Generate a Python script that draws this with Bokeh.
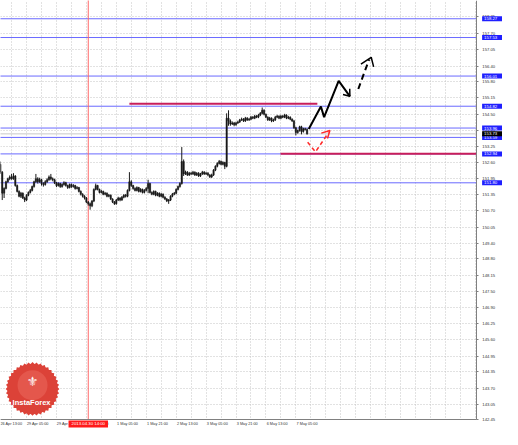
from bokeh.plotting import figure
from bokeh.models import Range1d, FixedTicker, Label
from bokeh.core.properties import value
from bokeh.embed import file_html
from bokeh.resources import INLINE

# hourly bars, index = hours of trading time from 26 Apr 13:00
bar_index = list(range(2, 167))
opens = [152.53, 152.22, 151.39, 151.58, 151.84, 151.96, 152.03, 151.96, 152.07, 151.69,
         151.46, 151.27, 151.39, 151.20, 151.12, 151.31, 151.42, 151.50, 151.65, 151.84,
         151.96, 151.84, 151.92, 151.77, 151.73, 151.84, 151.92, 152.03, 151.96, 151.92,
         151.80, 151.69, 151.77, 151.65, 151.73, 151.80, 151.69, 151.61, 151.73, 151.65,
         151.69, 151.58, 151.61, 151.46, 151.35, 151.27, 151.20, 151.04, 150.97, 150.89,
         151.08, 151.54, 151.69, 151.54, 151.42, 151.46, 151.35, 151.39, 151.27, 151.31,
         151.16, 151.04, 150.97, 151.12, 151.20, 151.12, 151.23, 151.31, 151.27, 151.50,
         151.84, 151.69, 151.58, 151.50, 151.61, 151.46, 151.54, 151.42, 151.50, 151.58,
         151.77, 151.42, 151.35, 151.46, 151.31, 151.39, 151.27, 151.35, 151.23, 151.16,
         151.08, 151.12, 151.27, 151.35, 151.39, 151.54, 151.65, 151.77, 152.64, 152.15,
         152.22, 152.11, 152.18, 152.15, 152.22, 152.11, 152.18, 152.07, 152.15, 152.22,
         152.15, 152.18, 152.11, 152.03, 152.11, 152.30, 152.45, 152.56, 152.64, 152.53,
         152.60, 152.45, 154.35, 154.24, 154.12, 154.16, 154.09, 154.16, 154.20, 154.28,
         154.31, 154.24, 154.35, 154.28, 154.31, 154.39, 154.35, 154.43, 154.39, 154.47,
         154.54, 154.66, 154.50, 154.39, 154.28, 154.35, 154.24, 154.28, 154.39, 154.43,
         154.35, 154.43, 154.39, 154.47, 154.35, 154.39, 154.31, 154.24, 153.97, 153.78,
         153.86, 154.01, 153.82, 153.93, 153.90]
closes = [152.22, 151.39, 151.58, 151.84, 151.96, 152.03, 151.96, 152.07, 151.69, 151.46,
          151.27, 151.39, 151.20, 151.12, 151.31, 151.42, 151.50, 151.65, 151.84, 151.96,
          151.84, 151.92, 151.77, 151.73, 151.84, 151.92, 152.03, 151.96, 151.92, 151.80,
          151.69, 151.77, 151.65, 151.73, 151.80, 151.69, 151.61, 151.73, 151.65, 151.69,
          151.58, 151.61, 151.46, 151.35, 151.27, 151.20, 151.04, 150.97, 150.89, 151.08,
          151.54, 151.69, 151.54, 151.42, 151.46, 151.35, 151.39, 151.27, 151.31, 151.16,
          151.04, 150.97, 151.12, 151.20, 151.12, 151.23, 151.31, 151.27, 151.50, 151.84,
          151.69, 151.58, 151.50, 151.61, 151.46, 151.54, 151.42, 151.50, 151.58, 151.77,
          151.42, 151.35, 151.46, 151.31, 151.39, 151.27, 151.35, 151.23, 151.16, 151.08,
          151.12, 151.27, 151.35, 151.39, 151.54, 151.65, 151.77, 152.64, 152.15, 152.22,
          152.11, 152.18, 152.15, 152.22, 152.11, 152.18, 152.07, 152.15, 152.22, 152.15,
          152.18, 152.11, 152.03, 152.11, 152.30, 152.45, 152.56, 152.64, 152.53, 152.60,
          152.45, 154.35, 154.24, 154.12, 154.16, 154.09, 154.16, 154.20, 154.28, 154.31,
          154.24, 154.35, 154.28, 154.31, 154.39, 154.35, 154.43, 154.39, 154.47, 154.54,
          154.66, 154.50, 154.39, 154.28, 154.35, 154.24, 154.28, 154.39, 154.43, 154.35,
          154.43, 154.39, 154.47, 154.35, 154.39, 154.31, 154.24, 153.97, 153.78, 153.86,
          154.01, 153.82, 153.93, 153.90, 153.73]
highs = [152.64, 152.26, 151.62, 151.88, 152.00, 152.09, 152.15, 152.18, 152.10, 151.73,
         151.50, 151.44, 151.42, 151.25, 151.35, 151.46, 151.56, 151.69, 151.88, 152.15,
         152.02, 152.00, 151.96, 151.82, 151.90, 151.98, 152.09, 152.15, 152.01, 151.96,
         151.84, 151.82, 151.80, 151.78, 151.86, 151.84, 151.73, 151.77, 151.77, 151.75,
         151.72, 151.67, 151.64, 151.50, 151.39, 151.31, 151.24, 151.08, 151.02, 151.12,
         151.58, 151.77, 151.72, 151.57, 151.52, 151.49, 151.44, 151.42, 151.36, 151.34,
         151.19, 151.08, 151.16, 151.25, 151.23, 151.28, 151.35, 151.36, 151.54, 152.22,
         151.90, 151.72, 151.62, 151.66, 151.64, 151.59, 151.57, 151.55, 151.63, 151.92,
         151.80, 151.46, 151.50, 151.49, 151.43, 151.42, 151.40, 151.38, 151.27, 151.20,
         151.16, 151.31, 151.40, 151.44, 151.58, 151.69, 151.82, 153.21, 152.72, 152.28,
         152.26, 152.23, 152.23, 152.27, 152.25, 152.22, 152.22, 152.19, 152.27, 152.26,
         152.23, 152.22, 152.14, 152.16, 152.34, 152.49, 152.61, 152.70, 152.68, 152.65,
         152.63, 154.54, 154.66, 154.30, 154.22, 154.20, 154.21, 154.25, 154.32, 154.37,
         154.35, 154.40, 154.39, 154.36, 154.44, 154.43, 154.48, 154.47, 154.52, 154.59,
         154.77, 154.70, 154.53, 154.42, 154.40, 154.38, 154.33, 154.44, 154.48, 154.46,
         154.48, 154.47, 154.52, 154.50, 154.44, 154.42, 154.34, 154.28, 154.01, 153.90,
         154.05, 154.05, 153.97, 153.97, 153.95]
lows = [152.15, 151.12, 151.20, 151.54, 151.80, 151.90, 151.92, 151.92, 151.65, 151.42,
        151.23, 151.20, 151.16, 151.04, 151.08, 151.27, 151.38, 151.46, 151.61, 151.80,
        151.77, 151.80, 151.69, 151.65, 151.69, 151.80, 151.88, 151.90, 151.86, 151.75,
        151.63, 151.65, 151.60, 151.61, 151.69, 151.65, 151.56, 151.58, 151.60, 151.61,
        151.53, 151.54, 151.42, 151.30, 151.22, 151.14, 151.00, 150.90, 150.74, 150.84,
        151.04, 151.50, 151.50, 151.38, 151.38, 151.31, 151.31, 151.23, 151.23, 151.12,
        151.00, 150.93, 150.94, 151.08, 151.07, 151.09, 151.19, 151.22, 151.23, 151.46,
        151.64, 151.53, 151.46, 151.46, 151.42, 151.42, 151.38, 151.38, 151.46, 151.39,
        151.38, 151.31, 151.31, 151.27, 151.27, 151.23, 151.23, 151.19, 151.12, 151.04,
        150.97, 151.08, 151.23, 151.31, 151.35, 151.50, 151.61, 151.73, 152.07, 152.11,
        152.07, 152.07, 152.10, 152.11, 152.07, 152.07, 152.03, 152.03, 152.11, 152.11,
        152.11, 152.06, 151.99, 151.99, 152.07, 152.26, 152.41, 152.52, 152.49, 152.49,
        152.34, 152.41, 154.05, 154.05, 154.08, 154.03, 154.05, 154.12, 154.16, 154.24,
        154.20, 154.20, 154.24, 154.24, 154.27, 154.31, 154.31, 154.35, 154.35, 154.43,
        154.50, 154.46, 154.35, 154.24, 154.24, 154.19, 154.20, 154.24, 154.35, 154.31,
        154.31, 154.35, 154.35, 154.31, 154.31, 154.27, 154.20, 153.93, 153.67, 153.74,
        153.82, 153.71, 153.78, 153.86, 153.70]

# axis ticks
y_tick_labels = ["142.45", "143.05", "143.70", "144.35", "144.95", "145.60", "146.25",
                 "146.90", "147.50", "148.15", "148.80", "149.40", "150.05", "150.70",
                 "151.35", "151.95", "152.60", "153.25", "153.85", "154.50", "155.15",
                 "155.80", "156.40", "157.05", "157.70", "158.35"]
time_ticks = [0, 16, 32, 48, 64, 80, 96, 112, 128, 144, 160]
time_labels = ["26 Apr 13:00", "29 Apr 05:00", "29 Apr 21:00", "30 Apr 13:00",
               "1 May 05:00", "1 May 21:00", "2 May 13:00", "3 May 05:00",
               "3 May 21:00", "6 May 13:00", "7 May 05:00"]
grid_x = list(range(0, 264, 8))

# levels
blue_levels = [158.27, 157.53, 156.01, 154.82, 153.96, 153.59, 152.94, 151.80]
blue_labels = ["158.27", "157.53", "156.01", "154.82", "153.96", "153.59", "152.94", "151.80"]
magenta_levels = [154.92, 152.95]
magenta_start = [71, 151.8]
magenta_end = [171.5, 256.5]
bid_price = 153.73
bid_label = "153.73"
marker_time = 49
marker_label = "2013.04.30 14:00"

# forecast arrows
black_path_x = [166.9, 173.4, 175.1, 182.9, 188.9]
black_path_y = [153.92, 154.81, 154.39, 155.82, 155.21]
black_head_x = [185.2, 188.9, 188.8]
black_head_y = [155.28, 155.21, 155.51]
dash_path_x = [193.4, 199.2]
dash_path_y = [155.50, 156.67]
dash_head_x = [194.8, 200.3, 201.6]
dash_head_y = [156.48, 156.75, 156.37]
red_path_x = [166.3, 170.5, 177.5]
red_path_y = [153.40, 153.02, 153.78]
red_head_x = [173.6, 178.2, 176.9]
red_head_y = [153.76, 153.86, 153.55]

# plot window (index / price) and where the price & time scales sit
X0, X1 = 2.07, 270.5
Y0, Y1 = 142.07, 158.99
SCALE_X = 256.5     # price scale line
SCALE_Y = 142.45    # time scale line

p = figure(width=502, height=429,
           x_range=Range1d(X0, X1), y_range=Range1d(Y0, Y1),
           y_axis_location="right", output_backend="svg", toolbar_location=None,
           min_border=0, background_fill_color="white", border_fill_color="white",
           outline_line_color=None)

# grid
p.xgrid.ticker = FixedTicker(ticks=grid_x)
p.ygrid.ticker = FixedTicker(ticks=[float(s) for s in y_tick_labels])
for g in (p.xgrid, p.ygrid):
    g.grid_line_color = "#c4c4c4"
    g.grid_line_dash = "1 2"
    g.grid_line_width = 1

# horizontal levels (stop at the price scale)
p.segment(x0=[X0 - 5] * len(blue_levels), y0=blue_levels,
          x1=[SCALE_X] * len(blue_levels), y1=blue_levels,
          line_color="#6a6aff", line_width=1)
p.segment(x0=[X0 - 5], y0=[bid_price], x1=[SCALE_X], y1=[bid_price],
          line_color="#c8c8c8", line_width=1)
p.segment(x0=[marker_time], y0=[SCALE_Y], x1=[marker_time], y1=[Y1 + 1],
          line_color="#ff6a6a", line_width=1)
p.segment(x0=magenta_start, y0=magenta_levels, x1=magenta_end, y1=magenta_levels,
          line_color="#c81e5a", line_width=2)

# bars
p.segment(x0=bar_index, y0=lows, x1=bar_index, y1=highs, line_color="#1a1a1a", line_width=1)
body_top = [max(o, c) for o, c in zip(opens, closes)]
body_bot = [min(o, c) for o, c in zip(opens, closes)]
p.vbar(x=bar_index, top=body_top, bottom=body_bot, width=0.7,
       fill_color="#1a1a1a", line_color="#1a1a1a", line_width=0.5)

# forecast arrows
p.line(black_path_x, black_path_y, line_color="black", line_width=2)
p.line(black_head_x, black_head_y, line_color="black", line_width=1.5)
p.line(dash_path_x, dash_path_y, line_color="black", line_width=2, line_dash="6 4")
p.line(dash_head_x, dash_head_y, line_color="black", line_width=1.5)
p.line(red_path_x, red_path_y, line_color="#ff2a2a", line_width=1.5, line_dash="4 3")
p.line(red_head_x, red_head_y, line_color="#ff2a2a", line_width=1.5)

# white margins under the scales
p.quad(left=[SCALE_X], right=[X1 + 5], bottom=[Y0 - 1], top=[Y1 + 1],
       fill_color="white", line_color=None)
p.quad(left=[X0 - 5], right=[X1 + 5], bottom=[Y0 - 1], top=[SCALE_Y],
       fill_color="white", line_color=None)

# logo (InstaForex seal)
logo_x = 19.2
logo_y = 143.67
seal_angles = [0, 9, 18, 27, 36, 45, 54, 63, 72, 81]
p.scatter(x=[logo_x] * len(seal_angles), y=[logo_y] * len(seal_angles), marker="square",
          size=38, angle=seal_angles, angle_units="deg",
          fill_color="#dc4238", line_color=None)
p.scatter(x=[logo_x], y=[logo_y], marker="circle", size=50,
          fill_color="#dc4238", line_color=None)
p.scatter(x=[logo_x], y=[logo_y + 0.15], marker="circle", size=30,
          fill_color="#e4574c", line_color=None)
p.text(x=[logo_x], y=[logo_y + 0.3], text=["\u269c"], text_font=value("DejaVu Sans"),
       text_font_size="13px", text_color="white", text_align="center", text_baseline="middle")
p.text(x=[logo_x - 0.55], y=[143.13], text=["InstaForex"], text_font=value("Liberation Sans"),
       text_font_style="bold", text_font_size="7.5px", text_color="white",
       text_align="center", text_baseline="middle")

# axes, pinned inside the window like the terminal's scales
label_pos = [t + 6 for t in time_ticks]
p.xaxis.fixed_location = SCALE_Y
p.xaxis.bounds = (X0 - 5, SCALE_X)
p.xaxis.ticker = FixedTicker(ticks=label_pos)
p.xaxis.major_label_overrides = {lp: lab for lp, lab in zip(label_pos, time_labels)}
p.xaxis.major_tick_in = 0
p.xaxis.major_tick_out = 0
p.xaxis.major_tick_line_color = None
p.xaxis.minor_tick_line_color = None
p.xaxis.axis_line_color = "#808080"
p.xaxis.major_label_text_font_size = "3.8px"
p.xaxis.major_label_text_font = "Liberation Sans"
p.xaxis.major_label_text_color = "#333333"
p.xaxis.major_label_standoff = 2

p.yaxis.fixed_location = SCALE_X
p.yaxis.bounds = (SCALE_Y, Y1)
p.yaxis.ticker = FixedTicker(ticks=[float(s) for s in y_tick_labels])
p.yaxis.major_label_overrides = {float(s): s for s in y_tick_labels}
p.yaxis.major_tick_in = 0
p.yaxis.major_tick_out = 2
p.yaxis.major_tick_line_color = "#808080"
p.yaxis.minor_tick_line_color = None
p.yaxis.axis_line_color = "#808080"
p.yaxis.major_label_text_font_size = "4.2px"
p.yaxis.major_label_text_font = "Liberation Sans"
p.yaxis.major_label_text_color = "#333333"
p.yaxis.major_label_standoff = 4

# highlighted price labels on the scale
box_pad = dict(left=2, right=5, top=1, bottom=1)
for lv, lab in zip(blue_levels, blue_labels):
    p.add_layout(Label(x=259.6, y=lv, text=lab, text_font_size="4.3px",
                       text_font="Liberation Sans", text_color="white",
                       text_align="left", text_baseline="middle",
                       background_fill_color="#1f1fff", padding=box_pad))
p.add_layout(Label(x=259.6, y=bid_price, text=bid_label, text_font_size="4.3px",
                   text_font="Liberation Sans", text_color="white",
                   text_align="left", text_baseline="middle",
                   background_fill_color="black", padding=box_pad))
p.add_layout(Label(x=marker_time, y=142.29, text=marker_label, text_font_size="4.3px",
                   text_font="Liberation Sans", text_color="white",
                   text_align="center", text_baseline="middle",
                   background_fill_color="#ff1a1a", padding=dict(left=3, right=3, top=1, bottom=1)))

open("out.html", "w").write(file_html(p, INLINE))
